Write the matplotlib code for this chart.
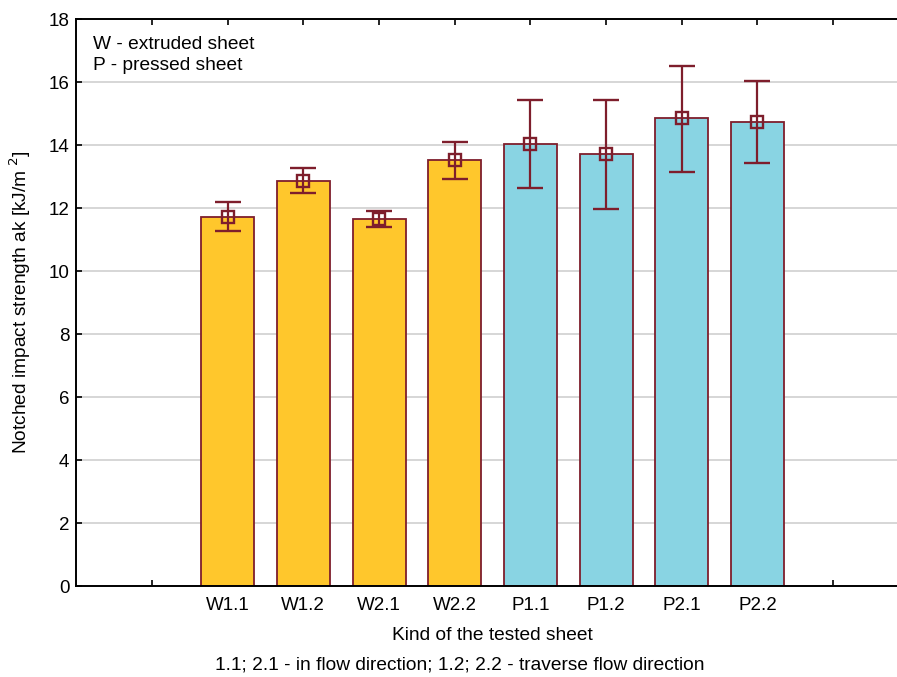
import numpy as np
import matplotlib.pyplot as plt

plt.rcParams['font.family'] = ['Liberation Sans', 'DejaVu Sans']

# data
labels = ["W1.1", "W1.2", "W2.1", "W2.2", "P1.1", "P1.2", "P2.1", "P2.2"]
means = [11.72, 12.87, 11.66, 13.53, 14.03, 13.71, 14.85, 14.74]
err_low = [11.28, 12.49, 11.39, 12.93, 12.62, 11.97, 13.15, 13.42]
err_high = [12.18, 13.27, 11.90, 14.10, 15.43, 15.43, 16.51, 16.02]
bar_colors = ["#FFC72C"] * 4 + ["#89D4E3"] * 4

edge = "#7E1E2C"

fig = plt.figure(figsize=(8.97, 6.77), dpi=100)
ax = fig.add_axes([0.0851, 0.1344, 0.928, 0.8375])

x = np.arange(1, len(labels) + 1)
means = np.array(means)
yerr = [means - np.array(err_low), np.array(err_high) - means]

ax.bar(x, means, width=0.70, color=bar_colors, edgecolor=edge, linewidth=1.3, zorder=2)
ax.errorbar(x, means, yerr=yerr, fmt='s', color=edge, ecolor=edge,
            mfc='none', mec=edge, ms=9, mew=1.7, elinewidth=1.6,
            capsize=9.4, capthick=1.6, zorder=3)

ax.set_xlim(-1, 10)
ax.set_ylim(0, 18)
ax.set_xticks(np.arange(0, 10))
ax.set_xticklabels([""] + labels + [""])
ax.set_yticks(np.arange(0, 19, 2))

ax.yaxis.grid(True, color="#D3D3D3", linewidth=1.3, zorder=0)
ax.set_axisbelow(True)

ax.tick_params(axis='x', direction='in', top=True, length=4, width=1.2,
               labelsize=13.5, pad=8)
ax.tick_params(axis='y', direction='in', length=4, width=1.2, labelsize=13.5, pad=5)
for side in ['left', 'bottom', 'top']:
    ax.spines[side].set_linewidth(1.4)
ax.spines['right'].set_visible(False)

ax.set_xlabel("Kind of the tested sheet", fontsize=13.8, labelpad=9)
ax.set_ylabel("Notched impact strength ak [kJ/m$^{\\ 2}$]", fontsize=13.8, labelpad=11)
fig.text(460 / 897, 1 - 665 / 677, "1.1; 2.1 - in flow direction; 1.2; 2.2 - traverse flow direction",
         ha='center', va='center', fontsize=13.8)

fig.text(93 / 897, 1 - 36 / 677, "W - extruded sheet\nP - pressed sheet",
         ha='left', va='top', fontsize=13.8, linespacing=1.3)

fig.savefig("out.png", dpi=100)
